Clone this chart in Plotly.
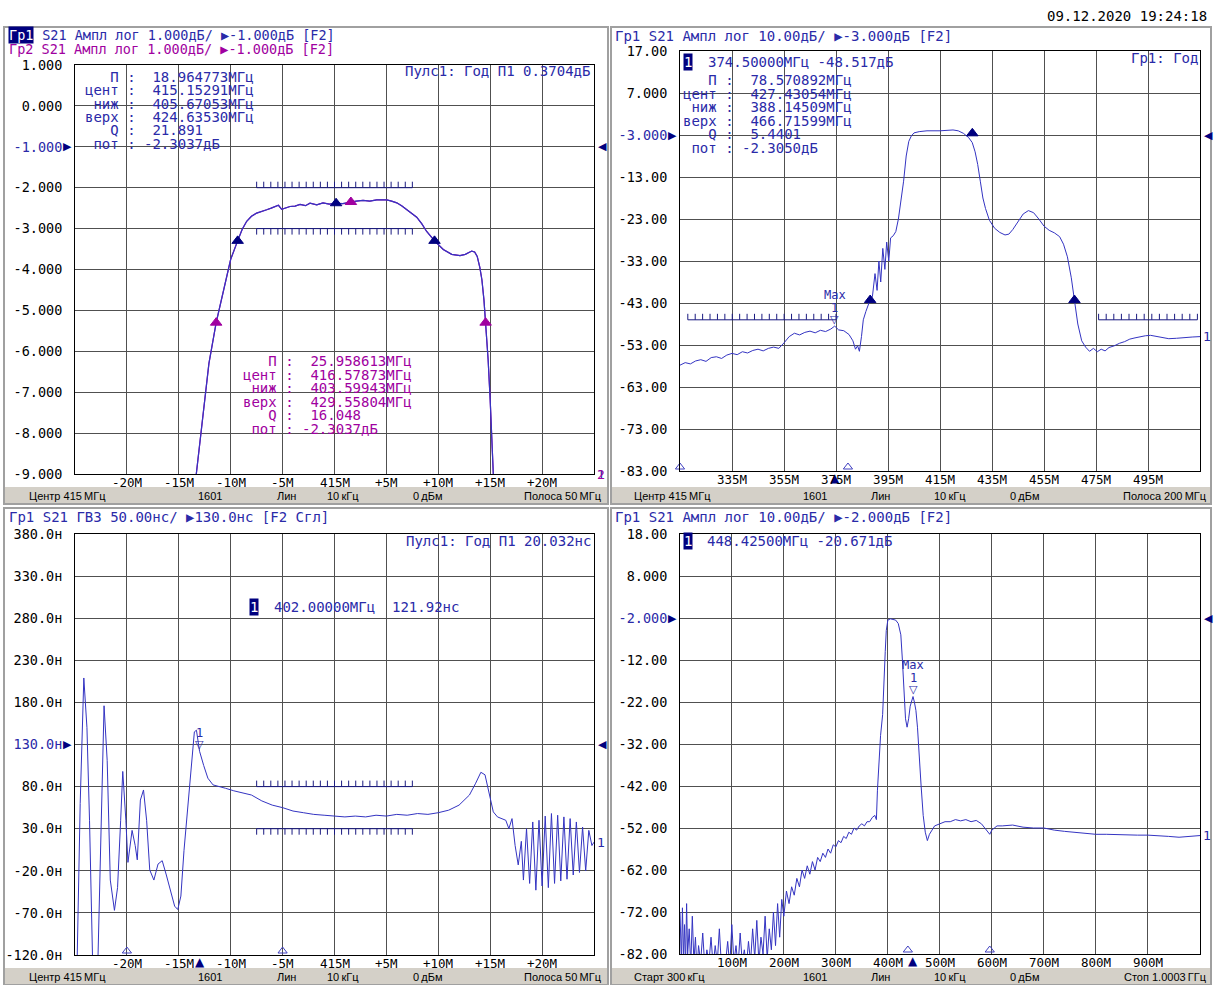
import numpy as np
import plotly.graph_objects as go

W, H = 1214, 985
MONO = "DejaVu Sans Mono, monospace"
SANS = "Liberation Sans, Arial, sans-serif"
TXT = "#2a2aa8"
TRACE = "#3434c2"
NAVY = "#00007f"
MAG = "#a000a0"
GRID = "#505050"
BAR = "#d4d0c8"
NB = "\u00a0"

# ---------------- top-left: S21 magnitude, 1 dB/div ----------------
tl_freq = [401.55, 401.85, 402.3, 402.9, 403.6, 404.2, 404.6, 405.0, 405.67, 406.1,
           406.54, 407.0, 407.5, 408.0, 408.47, 408.9, 409.27, 409.6, 409.91, 410.3,
           410.71, 411.2, 411.68, 412.2, 412.64, 413.29, 413.89, 414.5, 415.15, 415.8,
           416.58, 417.1, 417.75, 418.4, 419.07, 419.6, 420.03, 420.5, 421.0, 421.5,
           421.96, 422.45, 422.92, 423.4, 423.88, 424.64, 425.48, 426.29, 427.09, 427.6,
           428.22, 428.5, 428.75, 429.0, 429.2, 429.4, 429.56, 429.8, 430.0, 430.15,
           430.35]
tl_gain = [-9.3, -8.6, -7.6, -6.3, -5.3, -4.6, -4.2, -3.75, -3.30, -3.02,
           -2.82, -2.70, -2.62, -2.57, -2.54, -2.50, -2.46, -2.43, -2.53, -2.49,
           -2.46, -2.45, -2.41, -2.44, -2.38, -2.42, -2.37, -2.40, -2.38, -2.39,
           -2.35, -2.33, -2.31, -2.33, -2.30, -2.31, -2.30, -2.33, -2.37, -2.45,
           -2.54, -2.62, -2.72, -2.88, -3.07, -3.30, -3.51, -3.63, -3.66, -3.63,
           -3.55, -3.57, -3.68, -3.95, -4.25, -4.75, -5.30, -6.2, -7.2, -8.3,
           -9.3]
tl_mk1_freq = [405.67053, 415.15291, 424.63530]
tl_mk1_val = [-3.30, -2.38, -3.30]
tl_mk2_freq = [403.59943, 416.57873, 429.55804]
tl_mk2_val = [-5.30, -2.35, -5.30]
tl_xticks = [395, 400, 405, 410, 415, 420, 425, 430, 435]
tl_xlabels = ["-20M", "-15M", "-10M", "-5M", "415M", "+5M", "+10M", "+15M", "+20M"]
tl_yticks = [1, 0, -1, -2, -3, -4, -5, -6, -7, -8, -9]
tl_ylabels = ["1.000", "0.000", "-1.000", "-2.000", "-3.000", "-4.000", "-5.000",
              "-6.000", "-7.000", "-8.000", "-9.000"]
tl_ref = -1.0
tl_limit_hi = [407.5, 422.5, -2.0]
tl_limit_lo = [407.5, 422.5, -3.0]

# ---------------- top-right: S21 magnitude, 10 dB/div ----------------
tr_freq = [315, 317, 319, 321, 323, 325, 327, 329, 331, 333, 335, 337, 339, 341, 343,
           345, 347, 349, 351, 353, 355, 357, 359, 361, 363, 365, 367, 369, 371, 373,
           374.5, 376, 378, 380, 381.5, 382.5, 383.3, 384, 384.8, 385.5, 386.5, 387.5,
           388.1, 389, 390, 390.8, 391.5, 392.2, 393, 393.8, 394.5, 395.3, 396, 397,
           398, 399, 400, 401, 402, 403, 404, 405, 407, 410, 415, 420, 422, 424, 426,
           427.4, 428.5, 429.5, 430.5, 431.5, 432.5, 434, 436, 438, 440, 441.5, 443,
           445, 447, 449, 451, 453, 455, 457, 459, 461, 462.5, 464, 465.5, 466.7, 468,
           469.5, 471, 472.5, 474, 475.5, 477, 478.5, 480, 482, 484, 486, 488, 490,
           492, 494, 496, 498, 500, 503, 506, 509, 512, 515]
tr_gain = [-57.8, -57.2, -57.5, -56.8, -56.5, -56.9, -56.0, -55.8, -56.2, -55.4, -55.0,
           -55.3, -54.6, -54.9, -54.3, -54.0, -54.4, -53.8, -53.5, -53.8, -52.5, -51.0,
           -50.2, -50.6, -50.0, -49.7, -50.1, -49.5, -49.8, -49.2, -48.5, -49.4, -49.6,
           -50.5, -52.0, -54.0, -53.2, -54.5, -51.0, -47.0, -45.0, -43.5, -42.3, -41.5,
           -36.0, -40.0, -33.0, -38.0, -30.0, -35.0, -28.5, -33.0, -27.5, -27.0, -26.0,
           -23.0, -19.0, -14.0, -8.0, -4.5, -3.2, -2.5, -2.2, -2.0, -2.0, -1.8, -2.0,
           -2.6, -3.6, -4.8, -7.0, -10.0, -14.0, -18.0, -20.5, -23.3, -25.2, -26.2,
           -26.8, -26.6, -25.5, -23.5, -21.8, -21.0, -21.5, -23.0, -24.7, -25.7, -26.3,
           -27.2, -29.0, -32.0, -37.0, -42.3, -48.0, -52.0, -53.5, -54.5, -53.8, -54.6,
           -54.0, -54.4, -53.6, -53.2, -52.6, -52.2, -51.6, -51.3, -51.0, -50.8, -50.7,
           -50.9, -51.2, -51.5, -51.4, -51.2, -51.1, -51.0]
tr_bw_freq = [388.14509, 427.43054, 466.71599]
tr_bw_val = [-42.3, -2.6, -42.3]
tr_max_freq = [374.5]
tr_max_val = [-48.517]
tr_stim_open = [315.0, 379.6]
tr_xticks = [335, 355, 375, 395, 415, 435, 455, 475, 495]
tr_xlabels = ["335M", "355M", "375M", "395M", "415M", "435M", "455M", "475M", "495M"]
tr_yticks = [17, 7, -3, -13, -23, -33, -43, -53, -63, -73, -83]
tr_ylabels = ["17.00", "7.000", "-3.000", "-13.00", "-23.00", "-33.00", "-43.00",
              "-53.00", "-63.00", "-73.00", "-83.00"]
tr_ref = -3.0
tr_limit_left = [318, 375, -47.0]
tr_limit_right = [476, 514, -47.0]

# ---------------- bottom-left: group delay, 50 ns/div ----------------
bl_freq = [390.2, 390.5, 390.85, 391.15, 391.4, 391.7, 392.2, 392.5, 392.8, 393.1,
           393.4, 393.8, 394.1, 394.4, 394.6, 394.9, 395.1, 395.5, 395.8, 396.0,
           396.3, 396.6, 396.9, 397.2, 397.6, 398.0, 398.4, 398.8, 399.2, 399.6,
           399.9, 400.2, 400.5, 400.9, 401.3, 401.5, 401.7, 402.0, 402.4, 402.8,
           403.3, 403.8, 404.5, 405.3, 406.2, 407.0, 408.0, 409.0, 410.0, 411.0,
           412.0, 413.0, 414.0, 415.0, 416.0, 417.0, 418.0, 419.0, 420.0, 421.0,
           422.0, 423.0, 424.0, 425.0, 426.0, 427.0, 428.0, 428.6, 429.1, 429.5,
           429.9, 430.3, 430.7, 431.1, 431.5, 431.8, 432.1, 432.4, 432.7, 433.0,
           433.2, 433.5, 433.8, 434.1, 434.4, 434.7, 435.0, 435.3, 435.6, 435.9,
           436.2, 436.5, 436.8, 437.1, 437.4, 437.7, 438.0, 438.3, 438.6, 438.9,
           439.2, 439.5, 439.8, 440.0]
bl_delay = [-130, 60, 209, 150, 40, -130, -130, 20, 176, 111,
            -31, -67, -40, 40, 98, 40, -10, 28, 10, -7,
            64, 76, 40, -19, -31, -12, -8, -25, -45, -62,
            -66, -50, 4, 64, 125, 145, 147, 122, 105, 90,
            82, 80, 78, 75, 72, 70, 63, 58, 55, 51,
            49, 47, 46, 45, 44, 45, 44, 46, 45, 47,
            46, 48, 47, 49, 52, 58, 70, 84, 97, 94,
            70, 50, 44, 42, 40, 30, 42, 10, -13, 15,
            -31, 30, -35, 38, -43, 40, -38, 45, -40, 48,
            -35, 46, -32, 44, -30, 42, -25, 38, -22, 32,
            -20, 28, 10, 14]
bl_mk_freq = [402.0]
bl_mk_val = [121.92]
bl_stim_open = [395.0, 410.0]
bl_xticks = tl_xticks
bl_xlabels = tl_xlabels
bl_yticks = [380, 330, 280, 230, 180, 130, 80, 30, -20, -70, -120]
bl_ylabels = ["380.0н", "330.0н", "280.0н", "230.0н", "180.0н", "130.0н", "80.0н",
              "30.0н", "-20.0н", "-70.0н", "-120.0н"]
bl_ref = 130.0
bl_limit_hi = [407.5, 422.5, 80.0]
bl_limit_lo = [407.5, 422.5, 30.0]

# ---------------- bottom-right: S21 wide span, 10 dB/div ----------------
br_freq = [0.3, 3, 5, 7, 9, 11, 13, 15, 18, 21, 24, 27, 30, 33, 36, 40, 44, 48, 52, 56,
           60, 64, 68, 72, 76, 80, 84, 88, 92, 96, 100, 104, 108, 112, 116, 120, 124,
           128, 132, 136, 140, 144, 148, 152, 156, 160, 164, 168, 172, 176, 180, 184,
           188, 192, 196, 200, 205, 210, 215, 220, 225, 230, 235, 240, 245, 250, 255,
           260, 265, 270, 275, 280, 285, 290, 295, 300, 305, 310, 315, 320, 325, 330,
           335, 340, 345, 350, 355, 360, 365, 370, 375, 378, 380, 383, 386, 390, 393,
           395, 397, 400, 405, 410, 415, 420, 425, 428, 431, 434, 437, 440, 443, 446,
           448.4, 451, 454, 457, 460, 464, 468, 472, 476, 480, 485, 490, 500, 510, 520,
           530, 540, 550, 560, 570, 580, 590, 596, 600, 610, 620, 640, 660, 680, 700,
           720, 740, 760, 780, 800, 820, 840, 860, 880, 900, 920, 940, 960, 980, 1000.3]
br_gain = [-72, -84, -71, -83, -75, -85, -70, -82, -76, -85, -73, -84, -78, -86, -80,
           -84, -77, -85, -81, -84, -78, -85, -80, -84, -76, -85, -82, -84, -79, -85,
           -75, -84, -80, -85, -77, -84, -81, -85, -79, -84, -76, -83, -74, -84, -78,
           -82, -73, -83, -76, -81, -72, -80, -70, -78, -69, -73, -67, -70, -66, -68,
           -64, -66, -62, -64, -61, -63, -60, -62, -59, -60, -58, -59, -57, -58, -56,
           -56.5, -55, -55.5, -54, -54.5, -53, -53.5, -52, -52.5, -51.5, -51, -51.5,
           -50.5, -50.5, -49.5, -49, -50, -43, -36, -30, -25, -18, -10, -5, -2.5, -2.2,
           -2.3, -2.5, -3.3, -6, -12, -20, -26, -28, -26, -23, -21.5, -20.7, -22, -24,
           -28, -33, -42, -49, -53, -55, -53.5, -52.5, -51.5, -51, -50.5, -50.5, -50,
           -50.3, -50, -50.5, -50.2, -51, -52.5, -53.5, -52.5, -51.5, -51.5, -51.3,
           -51.8, -52, -52, -52.5, -52.8, -53, -53.2, -53.5, -53.5, -53.6, -53.6, -53.7,
           -53.7, -53.8, -54, -54.2, -54, -53.8]
br_mk_freq = [448.425]
br_mk_val = [-20.671]
br_stim_open = [438.5, 596.0]
br_xticks = [100, 200, 300, 400, 500, 600, 700, 800, 900]
br_xlabels = ["100M", "200M", "300M", "400M", "500M", "600M", "700M", "800M", "900M"]
br_yticks = [18, 8, -2, -12, -22, -32, -42, -52, -62, -72, -82]
br_ylabels = ["18.00", "8.000", "-2.000", "-12.00", "-22.00", "-32.00", "-42.00",
              "-52.00", "-62.00", "-72.00", "-82.00"]
br_ref = -2.0

assert len(tl_freq) == len(tl_gain)
assert len(tr_freq) == len(tr_gain)
assert len(bl_freq) == len(bl_delay)
assert len(br_freq) == len(br_gain)

# ---------------- texts ----------------
tl_stats_blue = ["   П :  18.964773МГц", "цент :  415.15291МГц", " ниж :  405.67053МГц",
                 "верх :  424.63530МГц", "   Q :  21.891", " пот : -2.3037дБ"]
tl_stats_mag = ["   П :  25.958613МГц", "цент :  416.57873МГц", " ниж :  403.59943МГц",
                "верх :  429.55804МГц", "   Q :  16.048", " пот : -2.3037дБ"]
tr_stats = ["   П :  78.570892МГц", "цент :  427.43054МГц", " ниж :  388.14509МГц",
            "верх :  466.71599МГц", "   Q :  5.4401", " пот : -2.3050дБ"]
footer_left = ["Центр 415\u2009МГц", "1601", "Лин", "10\u2009кГц", "0\u2009дБм", "Полоса 50\u2009МГц"]
footer_tr = ["Центр 415\u2009МГц", "1601", "Лин", "10\u2009кГц", "0\u2009дБм", "Полоса 200\u2009МГц"]
footer_br = ["Старт 300\u2009кГц", "1601", "Лин", "10\u2009кГц", "0\u2009дБм", "Стоп 1.0003\u2009ГГц"]

# ---------------- layout helpers ----------------
panels = {
    "tl": dict(box=(75, 594, 65, 474), xr=(390, 440), yr=(-9, 1), n="",
               xt=tl_xticks, xl=tl_xlabels, yt=tl_yticks, yl=tl_ylabels, ref=tl_ref),
    "tr": dict(box=(680, 1200, 51, 471), xr=(315, 515), yr=(-83, 17), n="2",
               xt=tr_xticks, xl=tr_xlabels, yt=tr_yticks, yl=tr_ylabels, ref=tr_ref),
    "bl": dict(box=(75, 594, 534, 955), xr=(390, 440), yr=(-120, 380), n="3",
               xt=bl_xticks, xl=bl_xlabels, yt=bl_yticks, yl=bl_ylabels, ref=bl_ref),
    "br": dict(box=(680, 1200, 534, 954), xr=(0.3, 1000.3), yr=(-82, 18), n="4",
               xt=br_xticks, xl=br_xlabels, yt=br_yticks, yl=br_ylabels, ref=br_ref),
}


def px(x):
    return x / W


def py(y):
    return 1 - y / H


def dypp(p):
    _, _, y0, y1 = p["box"]
    return (p["yr"][1] - p["yr"][0]) / (y1 - y0)


fig = go.Figure()
annotations = []
shapes = []
layout = dict(width=W, height=H, autosize=False, margin=dict(l=0, r=0, t=0, b=0, pad=0),
              paper_bgcolor="white", plot_bgcolor="white", showlegend=False)

common = dict(showgrid=True, gridcolor=GRID, gridwidth=1, showline=True, linecolor="black",
              linewidth=1, mirror=True, zeroline=False, ticks="", fixedrange=True,
              automargin=False, tickfont=dict(family=MONO, size=13.5, color="black"))

for key, p in panels.items():
    x0, x1, y0, y1 = p["box"]
    n = p["n"]
    ytext = [f'<span style="color:{TXT}">{t}</span>' if v == p["ref"] else t
             for v, t in zip(p["yt"], p["yl"])]
    layout["xaxis" + n] = dict(domain=[px(x0), px(x1)], range=list(p["xr"]), anchor="y" + n,
                               tickmode="array", tickvals=p["xt"], showticklabels=False, **common)
    layout["yaxis" + n] = dict(domain=[py(y1), py(y0)], range=list(p["yr"]), anchor="x" + n,
                               tickmode="array", tickvals=p["yt"], ticktext=ytext,
                               ticklabelstandoff=9, **common)
    p["xa"] = "x" + n
    p["ya"] = "y" + n


def text(x, y, s, color=TXT, size=14, xanchor="left", family=MONO, bg=None):
    d = dict(x=px(x), y=py(y), xref="paper", yref="paper", text=s.replace(" ", NB),
             showarrow=False, xanchor=xanchor, yanchor="middle",
             font=dict(family=family, size=size, color=color), borderpad=0)
    if bg:
        d["bgcolor"] = bg
    annotations.append(d)


def data_text(p, xv, yv, s, color=TXT, size=12.5, family=MONO, xshift=0, yshift=0,
              xanchor="center"):
    annotations.append(dict(x=xv, y=yv, xref=p["xa"], yref=p["ya"], text=s, showarrow=False,
                            xanchor=xanchor, yanchor="middle", xshift=xshift, yshift=yshift,
                            font=dict(family=family, size=size, color=color)))


def line_trace(p, xs, ys, color=TRACE, width=1.2):
    fig.add_trace(go.Scatter(x=xs, y=ys, xaxis=p["xa"], yaxis=p["ya"], mode="lines",
                             line=dict(color=color, width=width), hoverinfo="skip"))


def marker_trace(p, xs, ys, symbol, color, size=9):
    fig.add_trace(go.Scatter(x=xs, y=ys, xaxis=p["xa"], yaxis=p["ya"], mode="markers",
                             marker=dict(symbol=symbol, color=color, size=size,
                                         line=dict(color=color, width=1)),
                             cliponaxis=False, hoverinfo="skip"))


def limit_line(p, lim, direction, n_ticks):
    a, b, level = lim
    dy = dypp(p) * 6 * direction
    X, Y = [a, b, None], [level, level, None]
    for xv in np.linspace(a, b, n_ticks):
        X += [xv, xv, None]
        Y += [level, level + dy, None]
    fig.add_trace(go.Scatter(x=X, y=Y, xaxis=p["xa"], yaxis=p["ya"], mode="lines",
                             line=dict(color="#1a1a80", width=1), hoverinfo="skip"))


def x_labels(p):
    for v, s in zip(p["xt"], p["xl"]):
        data_text(p, v, p["yr"][0], s, color="black", size=12.5, yshift=-8)


def ref_arrows(p):
    data_text(p, p["xr"][0], p["ref"], "▶", color=NAVY, size=11, family="DejaVu Sans",
              xanchor="right", xshift=-1)
    data_text(p, p["xr"][1], p["ref"], "◀", color=NAVY, size=11, family="DejaVu Sans",
              xanchor="left", xshift=2)


def end_label(p, yval, label, color):
    yv = min(max(yval, p["yr"][0]), p["yr"][1])
    data_text(p, p["xr"][1], yv, label, color=color, size=13, xanchor="left", xshift=1)


def max_marker(p, fx, fy, with_max):
    data_text(p, fx, fy, "▽", size=11, family="DejaVu Sans", yshift=7)
    data_text(p, fx, fy, "1", size=12, yshift=18)
    if with_max:
        data_text(p, fx, fy, "Max", size=12, yshift=31)


def stim_markers(p, open_list, active):
    yb = p["yr"][0]
    marker_trace(p, open_list, [yb + 4 * dypp(p)] * len(open_list), "triangle-up-open",
                 "#4040c0", size=8)
    for f in active:
        data_text(p, f, yb, "▲", color=NAVY, size=12, family="DejaVu Sans", yshift=-7)


# ---------------- window frames & status bars ----------------
windows = [(4, 608, 27, 504), (611, 1211, 27, 504), (4, 608, 508, 985), (611, 1211, 508, 985)]
for (a, b, c, d) in windows:
    shapes.append(dict(type="rect", xref="paper", yref="paper", x0=px(a + 1), x1=px(b - 1),
                       y0=py(d - 1), y1=py(d - 17), line=dict(width=0), fillcolor=BAR,
                       layer="below"))
    shapes.append(dict(type="rect", xref="paper", yref="paper", x0=px(a), x1=px(b), y0=py(d),
                       y1=py(c), line=dict(color="#a0a0a0", width=2), fillcolor="rgba(0,0,0,0)",
                       layer="below"))

CW = 8.43  # monospace character advance at 14 px

# ---------------- top-left ----------------
p = panels["tl"]
limit_line(p, tl_limit_hi, +1, 23)
limit_line(p, tl_limit_lo, -1, 23)
line_trace(p, tl_freq, tl_gain, color=MAG)
line_trace(p, tl_freq, tl_gain)
marker_trace(p, tl_mk1_freq, tl_mk1_val, "triangle-up", NAVY, size=10)
marker_trace(p, tl_mk2_freq, tl_mk2_val, "triangle-up", MAG, size=10)
x_labels(p)
ref_arrows(p)
end_label(p, tl_gain[-1], "1", TXT)
end_label(p, tl_gain[-1], "2", MAG)
text(8, 35, "Гр1", color="white", bg=NAVY, size=13.5)
text(8 + 3 * CW, 35, " S21 Ампл лог 1.000дБ/ ▶-1.000дБ [F2]", size=13.5)
text(8, 49, "Гр2 S21 Ампл лог 1.000дБ/ ▶-1.000дБ [F2]", color=MAG, size=13.5)
text(404, 71, "Пулс1: Год П1 0.3704дБ")
for i, s in enumerate(tl_stats_blue):
    text(84, 77 + 13.3 * i, s)
for i, s in enumerate(tl_stats_mag):
    text(242, 361 + 13.5 * i, s, color=MAG)

# ---------------- top-right ----------------
p = panels["tr"]
limit_line(p, tr_limit_left, +1, 21)
limit_line(p, tr_limit_right, +1, 14)
line_trace(p, tr_freq, tr_gain, width=1)
marker_trace(p, tr_bw_freq, tr_bw_val, "triangle-up", NAVY, size=10)
max_marker(p, tr_max_freq[0], tr_max_val[0], True)
stim_markers(p, tr_stim_open, tr_max_freq)
x_labels(p)
ref_arrows(p)
end_label(p, tr_gain[-1], "1", TXT)
text(614, 36, "Гр1 S21 Ампл лог 10.00дБ/ ▶-3.000дБ [F2]")
text(683, 62, "1", color="white", bg=NAVY)
text(707, 62, "374.50000МГц -48.517дБ")
text(1199, 58, "Гр1: Год", xanchor="right")
for i, s in enumerate(tr_stats):
    text(682, 80 + 13.6 * i, s)

# ---------------- bottom-left ----------------
p = panels["bl"]
limit_line(p, bl_limit_hi, +1, 23)
limit_line(p, bl_limit_lo, -1, 23)
line_trace(p, bl_freq, bl_delay, width=1)
max_marker(p, bl_mk_freq[0], bl_mk_val[0], False)
stim_markers(p, bl_stim_open, bl_mk_freq)
x_labels(p)
ref_arrows(p)
end_label(p, bl_delay[-1], "1", TXT)
text(8, 517, "Гр1 S21 ГВЗ 50.00нс/ ▶130.0нс [F2 Сгл]")
text(405, 541, "Пулс1: Год П1 20.032нс")
text(249, 607, "1", color="white", bg=NAVY)
text(273, 607, "402.00000МГц  121.92нс")

# ---------------- bottom-right ----------------
p = panels["br"]
line_trace(p, br_freq, br_gain, width=1)
max_marker(p, br_mk_freq[0], br_mk_val[0], True)
stim_markers(p, br_stim_open, br_mk_freq)
x_labels(p)
ref_arrows(p)
end_label(p, br_gain[-1], "1", TXT)
text(614, 517, "Гр1 S21 Ампл лог 10.00дБ/ ▶-2.000дБ [F2]")
text(683, 541, "1", color="white", bg=NAVY)
text(706, 541, "448.42500МГц -20.671дБ")


# ---------------- status bars ----------------
def footer(items, y, xs):
    anchors = ["left", "center", "center", "center", "center", "right"]
    for s, x, a in zip(items, xs, anchors):
        text(x, y, s, color="black", size=11, xanchor=a, family=SANS)


left_x = [28, 210, 286, 343, 428, 603]
right_x = [633, 815, 880, 950, 1025, 1208]
footer(footer_left, 496, left_x)
footer(footer_tr, 496, right_x)
footer(footer_left, 977, left_x)
footer(footer_br, 977, right_x)

text(1208, 16, "09.12.2020 19:24:18", color="black", xanchor="right")

layout["annotations"] = annotations
layout["shapes"] = shapes
fig.update_layout(**layout)
fig.write_html("out.html", config={"displayModeBar": False},
               post_script="document.body.style.margin='0';document.body.style.overflow='hidden';")
